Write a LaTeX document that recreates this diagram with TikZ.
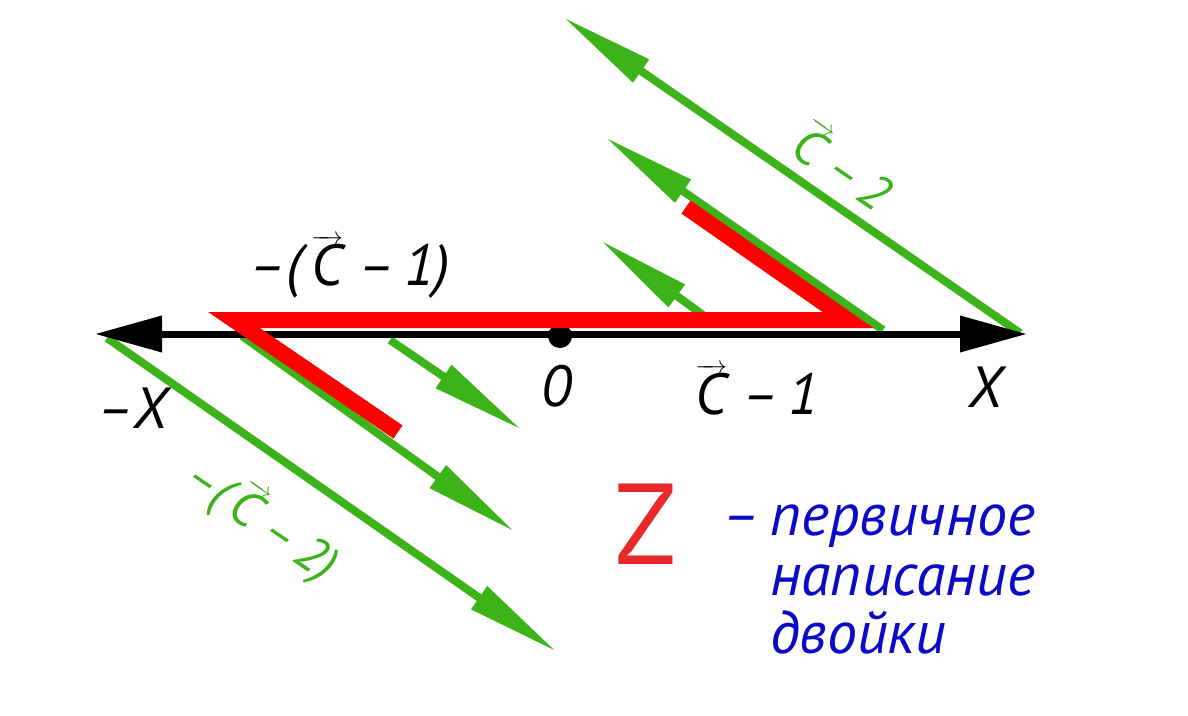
\documentclass[tikz,border=0pt]{standalone}
\usepackage{amsmath}
\usepackage{fontspec}
\setmainfont{PT Sans}
\usetikzlibrary{arrows.meta,positioning}

\definecolor{vecgreen}{RGB}{60,180,25}
\definecolor{zred}{RGB}{255,0,0}
\definecolor{zletter}{RGB}{230,40,40}
\definecolor{noteblue}{RGB}{10,10,200}

\newcommand{\vC}{$\overrightarrow{\text{C}}$}

\tikzset{
  axisline/.style={line width=7pt, {Triangle[length=67pt,width=35pt]}-{Triangle[length=67pt,width=35pt]}},
  vecarrow/.style={vecgreen, line width=8pt, -{Triangle[length=95pt,width=26pt]}},
  zstroke/.style={zred, line width=16pt, line join=miter},
  lbl/.style={font=\fontsize{58}{60}\selectfont\itshape, inner sep=0pt},
  veclbl/.style={lbl, vecgreen, font=\fontsize{50}{52}\selectfont\itshape},
  notelbl/.style={noteblue, inner sep=0pt, anchor=base west, font=\fontsize{60}{62}\selectfont\itshape}
}

\begin{document}
\begin{tikzpicture}[x=1pt,y=-1pt]
\useasboundingbox[fill=white] (0,0) rectangle (1188,715);
% end points
\coordinate (axL) at (95,334);
\coordinate (axR) at (1027,334);
\coordinate (g1s) at (1020,333); \coordinate (g1t) at (563,17);
\coordinate (g2s) at (883,330);  \coordinate (g2t) at (605,137);
\coordinate (g3s) at (703,315);  \coordinate (g3t) at (600,240);
\coordinate (g4s) at (390,340);  \coordinate (g4t) at (522,430);
\coordinate (g5s) at (242,336);  \coordinate (g5t) at (515,532);
\coordinate (g6s) at (107,338);  \coordinate (g6t) at (557,652);
\coordinate (zA) at (686,207);
\coordinate (zB) at (848,320);
\coordinate (zC) at (234,320);
\coordinate (zD) at (398,432);
% green vectors
\foreach \g in {1,...,6}
  \draw[vecarrow] (g\g s) -- (g\g t);
% axis
\draw[axisline] (axL) -- (axR);
\fill (560,336) circle (12pt);
% red Z
\draw[zstroke] (zA) -- (zB) -- (zC) -- (zD);
% labels
\node[lbl] (lblmC1) at (350,267) {–(\,\vC\ –\,1)};
\node[lbl] (lbl0) at (557,386) {0};
\node[lbl] (lblC1) at (757,390) {\vC\ –\,1};
\node[lbl] (lblX) at (986,387) {X};
\node[lbl] (lblmX) at (133,408) {–X};
\node[veclbl, rotate=-34.6] (lblC2) at (845,165) {\vC\ –\,2};
\node[veclbl, rotate=-34.6] (lblmC2) at (262,520) {–(\,\vC\ –\,2)};
% legend
\node[zletter, inner sep=0pt, font=\fontsize{115}{115}\selectfont] (lblZ) at (646,524) {Z};
\node[notelbl] (lbldash) at (722,535) {–};
\node[notelbl] (note1) at (770,535) {первичное};
\node[notelbl] (note2) at (770,595) {написание};
\node[notelbl] (note3) at (770,653) {двойки};
\end{tikzpicture}
\end{document}
